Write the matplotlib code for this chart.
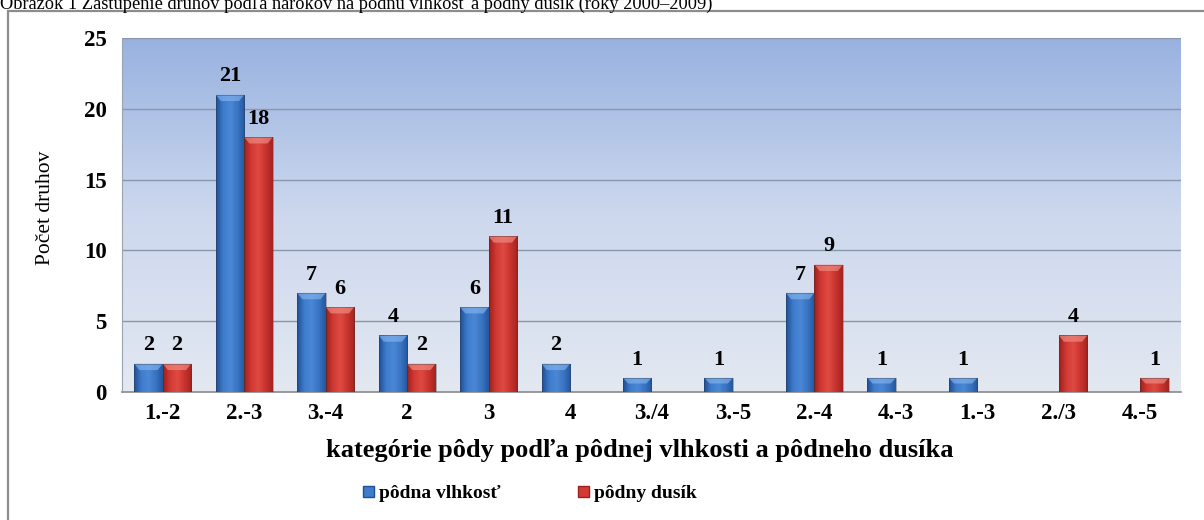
import numpy as np
import matplotlib
matplotlib.use("Agg")
import matplotlib.pyplot as plt
from matplotlib.patches import Rectangle, Polygon
from matplotlib.colors import LinearSegmentedColormap

categories = ['1.-2', '2.-3', '3.-4', '2', '3', '4', '3./4', '3.-5',
              '2.-4', '4.-3', '1.-3', '2./3', '4.-5']
vlhkost = [2, 21, 7, 4, 6, 2, 1, 1, 7, 1, 1, 0, 0]
dusik = [2, 18, 6, 2, 11, 0, 0, 0, 9, 0, 0, 4, 1]
yticks = [0, 5, 10, 15, 20, 25]

series_names = ['pôdna vlhkosť', 'pôdny dusík']
title = 'Obrázok 1 Zastúpenie druhov podľa nárokov na pôdnu vlhkosť a pôdny dusík (roky 2000–2009)'
xlabel = 'kategórie pôdy podľa pôdnej vlhkosti a pôdneho dusíka'
ylabel = 'Počet druhov'

plt.rcParams['font.family'] = ['Liberation Serif', 'DejaVu Serif']

W, H = 1204, 520
fig = plt.figure(figsize=(W / 100, H / 100), dpi=100)

# outer frame and caption above it
frame = Rectangle((8 / W, -0.05), 1.2, 1 - 11 / H + 0.05, transform=fig.transFigure,
                  fill=False, edgecolor='#8c8c8c', linewidth=1.6)
fig.add_artist(frame)
fig.text(0 / W, 1 - 9 / H, title, fontsize=13.2, va='baseline', ha='left')

ax = fig.add_axes([122 / W, 1 - 392 / H, (1181 - 122) / W, (392 - 38) / H])
ax.set_xlim(-0.5, len(categories) - 0.5)
ax.set_ylim(0, 25)

# vertical gradient background of the plotting area
bg = LinearSegmentedColormap.from_list('bg', ['#e3e8f1', '#cdd8ee', '#98b2e0'])
grad = np.linspace(0, 1, 256).reshape(-1, 1)
ax.imshow(grad, extent=(-0.5, len(categories) - 0.5, 0, 25), origin='lower',
          aspect='auto', cmap=bg, zorder=0)

for y in yticks[1:]:
    ax.axhline(y, color='#8a96aa', linewidth=1.0, zorder=1)

bw = 0.35
x = np.arange(len(categories))

blue_cmap = LinearSegmentedColormap.from_list(
    'b', ['#1f4f96', '#3f7dcc', '#4a88d6', '#3a74c2', '#24579e'])
red_cmap = LinearSegmentedColormap.from_list(
    'r', ['#9e1f1c', '#d23a34', '#de4a42', '#c9332e', '#a22420'])
blue_cap, red_cap = '#7fb0ec', '#ee8a82'
hgrad = np.linspace(0, 1, 64).reshape(1, -1)


def draw_bar(xc, v, cmap, cap):
    if v <= 0:
        return
    x0, x1 = xc - bw / 2, xc + bw / 2
    rect = Rectangle((x0, 0), bw, v, facecolor='none', edgecolor='none')
    ax.add_patch(rect)
    im = ax.imshow(hgrad, extent=(x0, x1, 0, v), aspect='auto', cmap=cmap,
                   zorder=3)
    im.set_clip_path(rect)
    capd = min(0.45, v * 0.4)
    inset = bw * 0.18
    top = Polygon([(x0, v), (x1, v), (x1 - inset, v - capd), (x0 + inset, v - capd)],
                  closed=True, facecolor=cap, edgecolor='none', alpha=0.7, zorder=4)
    ax.add_patch(top)
    ax.add_patch(Rectangle((x0, 0), bw, v, facecolor='none',
                           edgecolor='#33333366', linewidth=0.6, zorder=5))


label_kw = dict(textcoords='offset points', ha='center', va='bottom',
                fontsize=16, fontweight='bold', zorder=6)
for i in range(len(categories)):
    draw_bar(x[i] - bw / 2, vlhkost[i], blue_cmap, blue_cap)
    draw_bar(x[i] + bw / 2, dusik[i], red_cmap, red_cap)
    if vlhkost[i] > 0:
        ax.annotate(str(vlhkost[i]), (x[i] - bw / 2, vlhkost[i]), xytext=(0, 6),
                    **label_kw)
    if dusik[i] > 0:
        ax.annotate(str(dusik[i]), (x[i] + bw / 2, dusik[i]), xytext=(0, 6),
                    **label_kw)

ax.set_xticks(x)
ax.set_xticklabels(categories, fontsize=16.5, fontweight='bold')
ax.set_yticks(yticks)
ax.set_yticklabels([str(t) for t in yticks], fontsize=16.5, fontweight='bold')
ax.tick_params(axis='both', length=0)
ax.tick_params(axis='x', pad=8)
ax.tick_params(axis='y', pad=11)

for side in ['top', 'right']:
    ax.spines[side].set_visible(False)
ax.spines['left'].set_color('#9aa3b0')
ax.spines['bottom'].set_color('#8a8a8a')
ax.spines['bottom'].set_linewidth(1.2)

fig.text(640 / W, 1 - 451 / H, xlabel, fontsize=19, fontweight='bold',
         ha='center', va='center')
fig.text(46 / W, 1 - 208 / H, ylabel, rotation=90, fontsize=15.5,
         ha='center', va='center')

# legend
handles = [Rectangle((0, 0), 1, 1, facecolor='#3f7dcc', edgecolor='#1f4f96'),
           Rectangle((0, 0), 1, 1, facecolor='#d23a34', edgecolor='#9e1f1c')]
fig.legend(handles, series_names, loc='center', bbox_to_anchor=(530 / W, 1 - 494 / H),
           ncol=2, frameon=False, prop={'size': 14, 'weight': 'bold'},
           handlelength=0.55, handleheight=0.55, handletextpad=0.25,
           columnspacing=4.0)

fig.savefig('out.png', dpi=100)
